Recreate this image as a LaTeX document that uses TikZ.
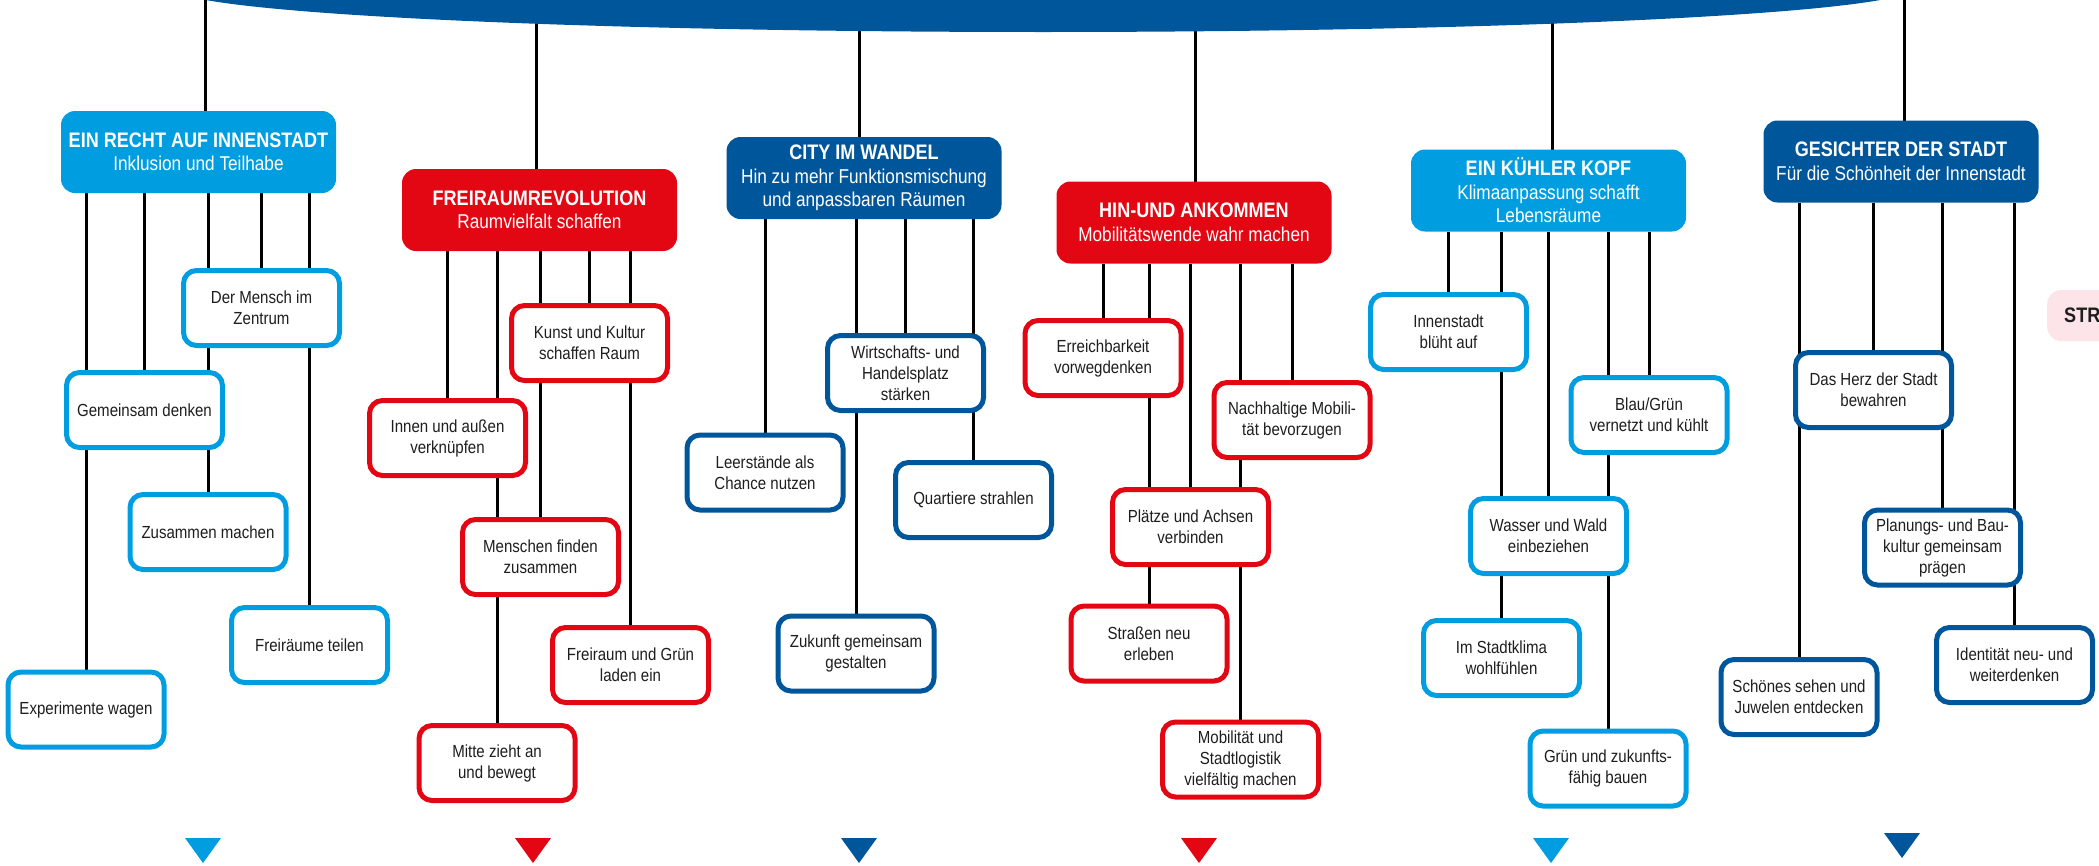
\documentclass[tikz,border=0pt]{standalone}
\usepackage{fontspec}
\setmainfont[FakeStretch=0.86]{Liberation Sans}
\usetikzlibrary{backgrounds}
\definecolor{lblue}{RGB}{0,158,224}
\definecolor{dblue}{RGB}{0,86,155}
\definecolor{mred}{RGB}{227,6,19}
\definecolor{pinkbg}{RGB}{252,228,232}
\definecolor{txt}{RGB}{30,30,30}
\tikzset{
  cat/.style={rounded corners=14pt, minimum width=275pt, minimum height=82pt, inner sep=0pt, outer sep=0pt,
    text=white, align=center, font=\fontsize{20}{23.5}\selectfont},
  kid/.style={rounded corners=13pt, line width=5pt, fill=white, minimum width=156pt, minimum height=75pt,
    inner sep=0pt, outer sep=0pt, align=center, text=txt, font=\fontsize{17.5}{21}\selectfont},
  conn/.style={line width=3pt, black},
  downtri/.pic={\fill (-18,0) -- (18,0) -- (0,25) -- cycle;}
}
\newcommand{\cattitle}[1]{{\fontsize{21}{23.5}\selectfont\bfseries #1}}
\begin{document}
\begin{tikzpicture}[x=1pt,y=-1pt]
\useasboundingbox (0,0) rectangle (2099,865);
\clip (0,0) rectangle (2099,865);

% top arc
\fill[dblue] (1043,-12) ellipse [x radius=870pt, y radius=44pt];

% category boxes
\node[cat, fill=lblue] (c1) at (198.5,152) {\cattitle{EIN RECHT AUF INNENSTADT}\\Inklusion und Teilhabe};
\node[cat, fill=mred]  (c2) at (539.5,210) {\cattitle{FREIRAUMREVOLUTION}\\Raumvielfalt schaffen};
\node[cat, fill=dblue] (c3) at (864,178) {\cattitle{CITY IM WANDEL}\\Hin zu mehr Funktionsmischung\\und anpassbaren Räumen};
\node[cat, fill=mred]  (c4) at (1194,222.5) {\cattitle{HIN-UND ANKOMMEN}\\Mobilitätswende wahr machen};
\node[cat, fill=lblue] (c5) at (1548.5,190.5) {\cattitle{EIN KÜHLER KOPF}\\Klimaanpassung schafft\\Lebensräume};
\node[cat, fill=dblue] (c6) at (1901,161.5) {\cattitle{GESICHTER DER STADT}\\Für die Schönheit der Innenstadt};

% children: EIN RECHT AUF INNENSTADT
\node[kid, draw=lblue] (k11) at (86,709.5) {Experimente wagen};
\node[kid, draw=lblue] (k12) at (144.5,410) {Gemeinsam denken};
\node[kid, draw=lblue] (k13) at (208,532) {Zusammen machen};
\node[kid, draw=lblue] (k14) at (261.5,308) {Der Mensch im\\Zentrum};
\node[kid, draw=lblue] (k15) at (309.5,645) {Freiräume teilen};
% FREIRAUMREVOLUTION
\node[kid, draw=mred] (k21) at (447.5,438) {Innen und außen\\verknüpfen};
\node[kid, draw=mred] (k22) at (497,763) {Mitte zieht an\\und bewegt};
\node[kid, draw=mred] (k23) at (540.5,557) {Menschen finden\\zusammen};
\node[kid, draw=mred] (k24) at (589.5,343) {Kunst und Kultur\\schaffen Raum};
\node[kid, draw=mred] (k25) at (630.5,665) {Freiraum und Grün\\laden ein};
% CITY IM WANDEL
\node[kid, draw=dblue] (k31) at (765,472.5) {Leerstände als\\Chance nutzen};
\node[kid, draw=dblue] (k32) at (856,653.5) {Zukunft gemeinsam\\gestalten};
\node[kid, draw=dblue] (k33) at (905.5,373) {Wirtschafts- und\\Handelsplatz\\stärken};
\node[kid, draw=dblue] (k34) at (973.5,500) {Quartiere strahlen};
% HIN-UND ANKOMMEN
\node[kid, draw=mred] (k41) at (1103,358) {Erreichbarkeit\\vorwegdenken};
\node[kid, draw=mred] (k42) at (1149,643.5) {Straßen neu\\erleben};
\node[kid, draw=mred] (k43) at (1190.5,527) {Plätze und Achsen\\verbinden};
\node[kid, draw=mred] (k44) at (1240.5,759.5) {Mobilität und\\Stadtlogistik\\vielfältig machen};
\node[kid, draw=mred] (k45) at (1292,420) {Nachhaltige Mobili-\\tät bevorzugen};
% EIN KÜHLER KOPF
\node[kid, draw=lblue] (k51) at (1448.5,332) {Innenstadt\\blüht auf};
\node[kid, draw=lblue] (k52) at (1501.5,658) {Im Stadtklima\\wohlfühlen};
\node[kid, draw=lblue] (k53) at (1548.5,536) {Wasser und Wald\\einbeziehen};
\node[kid, draw=lblue] (k54) at (1608,768.5) {Grün und zukunfts-\\fähig bauen};
\node[kid, draw=lblue] (k55) at (1649,415) {Blau/Grün\\vernetzt und kühlt};
% GESICHTER DER STADT
\node[kid, draw=dblue] (k61) at (1799,697) {Schönes sehen und\\Juwelen entdecken};
\node[kid, draw=dblue] (k62) at (1873.5,390) {Das Herz der Stadt\\bewahren};
\node[kid, draw=dblue] (k63) at (1942.5,547.5) {Planungs- und Bau-\\kultur gemeinsam\\prägen};
\node[kid, draw=dblue] (k64) at (2014.5,665) {Identität neu- und\\weiterdenken};

% partial box at right edge
\node[anchor=west, fill=pinkbg, rounded corners=14pt, minimum height=51pt, inner xsep=17pt, inner ysep=0pt,
  text width=110pt, align=left, text=txt, font=\fontsize{21}{24}\selectfont\bfseries] (str) at (2047,315.5) {STR};

% connectors
\begin{scope}[on background layer]
  \coordinate (t1) at (205,0);
  \coordinate (t2) at (536,0);
  \coordinate (t3) at (859,0);
  \coordinate (t4) at (1195,0);
  \coordinate (t5) at (1552,0);
  \coordinate (t6) at (1904,0);
  \foreach \i in {1,...,6} { \draw[conn] (t\i) -- (t\i |- c\i.north); }
  \foreach \c/\k in {1/1,1/2,1/3,1/4,1/5, 2/1,2/2,2/3,2/4,2/5, 3/1,3/2,3/3,3/4, 4/1,4/2,4/3,4/4,4/5, 5/1,5/2,5/3,5/4,5/5, 6/1,6/2,6/3,6/4}
    { \draw[conn] (k\c\k.north) -- (k\c\k.north |- c\c.south); }
\end{scope}

% markers at the bottom
\pic[lblue] at (203,838) {downtri};
\pic[mred] at (533,838) {downtri};
\pic[dblue] at (859,838) {downtri};
\pic[mred] at (1199,838) {downtri};
\pic[lblue] at (1551,838) {downtri};
\pic[dblue] at (1902,833) {downtri};
\end{tikzpicture}
\end{document}
